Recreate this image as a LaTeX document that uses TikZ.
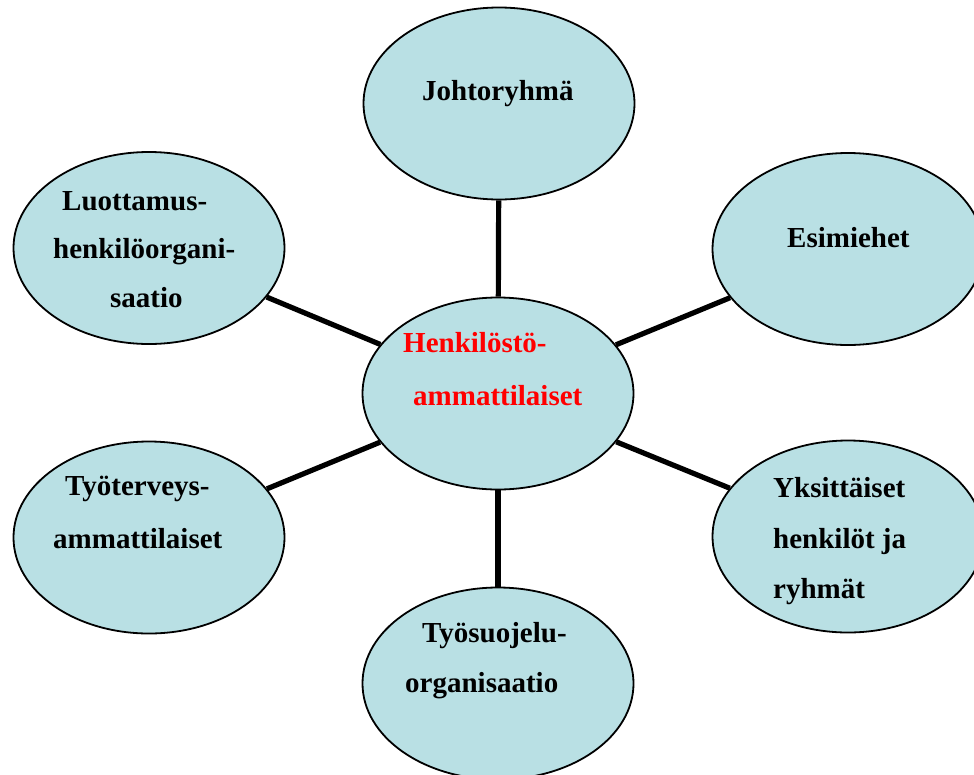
\documentclass[tikz,border=0pt]{standalone}
\usepackage{fontspec}
\setmainfont{Liberation Serif}
\usetikzlibrary{shapes.geometric}
\definecolor{bubblefill}{RGB}{185,224,228}
\tikzset{
  bubble/.style={ellipse, draw=black, line width=1.8pt, fill=bubblefill,
    minimum width=271pt, minimum height=192pt, inner sep=0pt},
  link/.style={line width=5.2pt, black},
  word/.style={anchor=base west, inner sep=0pt, font=\fontsize{29}{29}\selectfont\bfseries},
  hubword/.style={word, text=red}
}
\begin{document}
\begin{tikzpicture}[x=1pt, y=-1pt]
\clip (0,0) rectangle (974,774);
\fill[white] (0,0) rectangle (974,774);

% hub and surrounding groups
\node[bubble] (hub) at (498,393.5) {};
\node[bubble] (lead) at (499,103.5) {};
\node[bubble] (trust) at (149,248) {};
\node[bubble] (boss) at (848,249) {};
\node[bubble] (health) at (149,537.5) {};
\node[bubble] (indiv) at (848,536.5) {};
\node[bubble] (safety) at (498,683.5) {};

% spokes between the hub and each group
\draw[link] (hub) -- (lead);
\draw[link] (hub) -- (trust);
\draw[link] (hub) -- (boss);
\draw[link] (hub) -- (health);
\draw[link] (hub) -- (indiv);
\draw[link] (hub) -- (safety);

% labels, one line each
\node[hubword] (h1) at (403,352) {Henkilöstö-};
\node[hubword] (h2) at (413,405) {ammattilaiset};

\node[word] (l1) at (422,100) {Johtoryhmä};

\node[word] (t1) at (62,210) {Luottamus-};
\node[word] (t2) at (53,258) {henkilöorgani-};
\node[word] (t3) at (110,307) {saatio};

\node[word] (b1) at (787,247) {Esimiehet};

\node[word] (w1) at (65,495) {Työterveys-};
\node[word] (w2) at (53,548) {ammattilaiset};

\node[word] (i1) at (773,497) {Yksittäiset};
\node[word] (i2) at (773,548) {henkilöt ja};
\node[word] (i3) at (773,598) {ryhmät};

\node[word] (s1) at (422,642) {Työsuojelu-};
\node[word] (s2) at (405,692) {organisaatio};
\end{tikzpicture}
\end{document}
